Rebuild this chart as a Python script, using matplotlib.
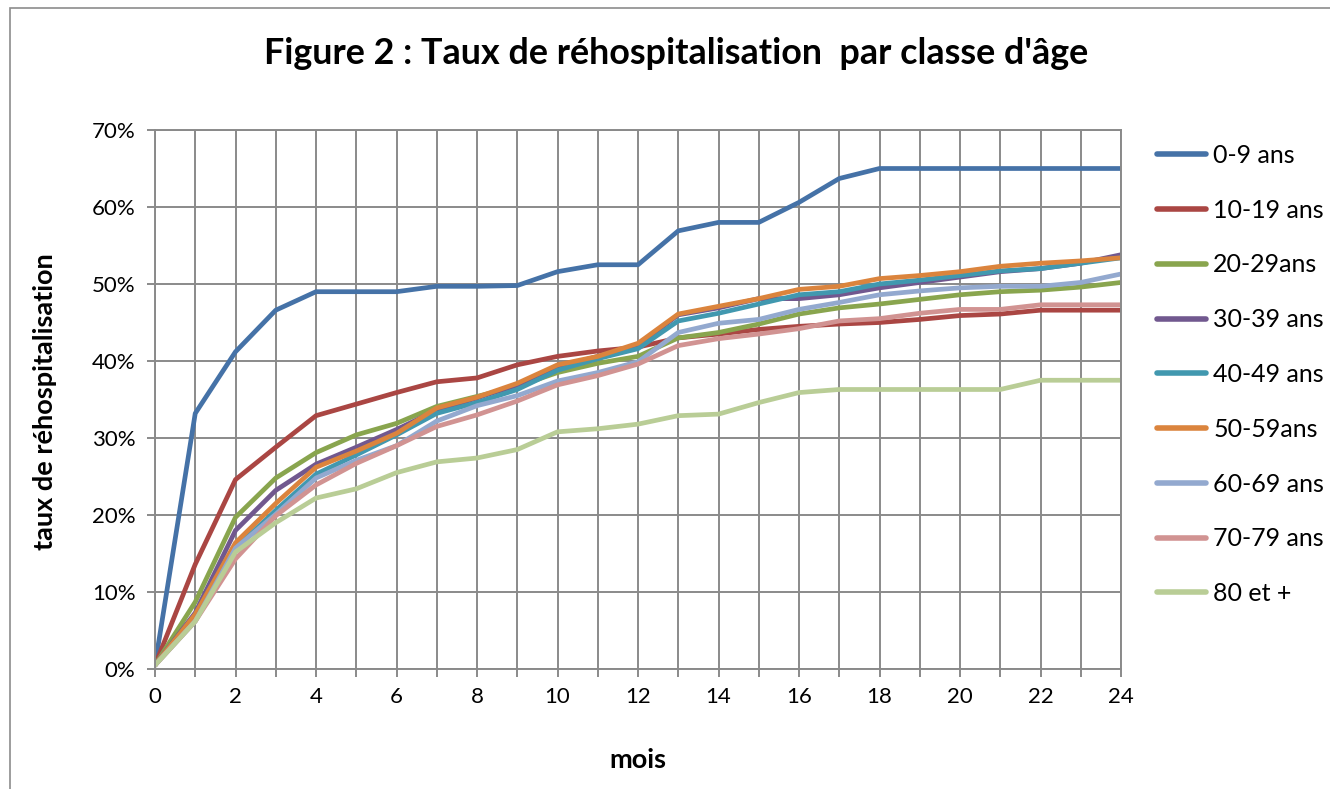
import matplotlib
matplotlib.use("Agg")
import matplotlib.pyplot as plt
from matplotlib.patches import Rectangle
from matplotlib.ticker import MultipleLocator, FuncFormatter

plt.rcParams['font.family'] = ['Lato', 'DejaVu Sans']

months = list(range(25))
labels = ["0-9 ans", "10-19 ans", "20-29ans", "30-39 ans", "40-49 ans",
          "50-59ans", "60-69 ans", "70-79 ans", "80 et +"]
colors = ["#4572A7", "#AA4643", "#89A54E", "#71588F", "#4198AF",
          "#DB843D", "#93A9CF", "#D19392", "#B9CD96"]

s_0_9 = [0.5, 33.2, 41.2, 46.6, 49.0, 49.0, 49.0, 49.7, 49.7, 49.8, 51.6, 52.5, 52.5,
         56.9, 58.0, 58.0, 60.6, 63.7, 65.0, 65.0, 65.0, 65.0, 65.0, 65.0, 65.0]
s_10_19 = [0.5, 13.6, 24.6, 28.8, 32.9, 34.4, 35.9, 37.3, 37.8, 39.5, 40.6, 41.3, 41.8,
           43.0, 43.5, 44.1, 44.5, 44.8, 45.0, 45.4, 45.9, 46.1, 46.6, 46.6, 46.6]
s_20_29 = [0.5, 8.7, 19.7, 24.8, 28.1, 30.4, 31.9, 34.1, 35.4, 36.7, 38.5, 39.7, 40.6,
           43.0, 43.7, 44.8, 46.1, 46.9, 47.4, 48.0, 48.6, 49.0, 49.2, 49.6, 50.2]
s_30_39 = [0.5, 7.3, 18.0, 23.2, 26.6, 28.8, 31.1, 33.6, 35.2, 36.9, 39.2, 40.6, 42.0,
           46.0, 46.9, 48.1, 48.1, 48.6, 49.5, 50.2, 50.9, 51.6, 52.0, 52.7, 53.8]
s_40_49 = [0.5, 6.9, 15.7, 20.6, 25.3, 27.8, 30.4, 33.2, 34.6, 36.3, 38.8, 40.3, 41.6,
           45.2, 46.2, 47.4, 48.6, 49.0, 50.0, 50.5, 51.1, 51.7, 52.0, 52.7, 53.4]
s_50_59 = [0.5, 7.1, 16.4, 21.5, 26.2, 28.3, 30.6, 33.9, 35.3, 37.1, 39.5, 40.6, 42.3,
           46.1, 47.1, 48.1, 49.3, 49.7, 50.7, 51.1, 51.6, 52.3, 52.7, 53.0, 53.4]
s_60_69 = [0.5, 6.2, 15.7, 20.1, 24.8, 27.1, 29.0, 32.2, 34.2, 35.5, 37.4, 38.5, 39.9,
           43.7, 44.9, 45.4, 46.7, 47.6, 48.6, 49.1, 49.5, 49.7, 49.7, 50.2, 51.3]
s_70_79 = [0.5, 6.2, 14.3, 19.9, 23.9, 26.7, 29.0, 31.5, 33.0, 34.8, 36.9, 38.1, 39.6,
           42.0, 42.9, 43.5, 44.2, 45.2, 45.5, 46.2, 46.7, 46.7, 47.3, 47.3, 47.3]
s_80p = [0.5, 6.2, 15.2, 19.0, 22.2, 23.4, 25.5, 26.9, 27.4, 28.5, 30.8, 31.2, 31.8,
         32.9, 33.1, 34.6, 35.9, 36.3, 36.3, 36.3, 36.3, 36.3, 37.5, 37.5, 37.5]

series = [s_0_9, s_10_19, s_20_29, s_30_39, s_40_49, s_50_59, s_60_69, s_70_79, s_80p]

W, H = 1330, 789
fig = plt.figure(figsize=(W / 100, H / 100), dpi=100)
fig.patch.set_facecolor("white")

# outer chart border
fig.add_artist(Rectangle((10 / W, -0.01), 1.02, 1 - 8 / H + 0.01, transform=fig.transFigure,
                         fill=False, edgecolor="#8C8C8C", linewidth=1.2))

ax = fig.add_axes([155 / W, 1 - 669 / H, 966 / W, 539 / H])
grid_c = "#8A8A8A"
for s, c, lab in zip(series, colors, labels):
    ax.plot(months, s, color=c, linewidth=3.4, label=lab, solid_capstyle="round",
            solid_joinstyle="round")

ax.set_xlim(0, 24)
ax.set_ylim(0, 70)
ax.xaxis.set_major_locator(MultipleLocator(2))
ax.xaxis.set_minor_locator(MultipleLocator(1))
ax.yaxis.set_major_locator(MultipleLocator(10))
ax.yaxis.set_major_formatter(FuncFormatter(lambda v, p: f"{int(round(v))}%"))
ax.grid(True, which="both", axis="x", color=grid_c, linewidth=1.4)
ax.grid(True, which="major", axis="y", color=grid_c, linewidth=1.4)
ax.set_axisbelow(True)
for sp in ax.spines.values():
    sp.set_color(grid_c)
    sp.set_linewidth(1.4)
ax.tick_params(axis="both", which="both", direction="out", length=6, width=1.4,
               color=grid_c, labelsize=16, labelcolor="black")
ax.tick_params(axis="x", pad=7)
ax.tick_params(axis="y", pad=8)

ax.set_xlabel("mois", fontsize=19.5, fontweight="bold")
ax.set_ylabel("taux de réhospitalisation", fontsize=19.5, fontweight="bold")
ax.xaxis.set_label_coords((638 - 155) / 966, (669 - 760) / 539)
ax.xaxis.label.set_va("center")
ax.yaxis.set_label_coords((45 - 155) / 966, (669 - 402) / 539)
ax.yaxis.label.set_va("center")

fig.text(676 / W, 1 - 53 / H, "Figure 2 : Taux de réhospitalisation  par classe d'âge",
         ha="center", va="center", fontsize=25.8, fontweight="bold")

leg = ax.legend(loc="upper left", bbox_to_anchor=(1157 / W, 1 - 144 / H),
                bbox_transform=fig.transFigure, frameon=False, fontsize=18,
                handlelength=1.95, handletextpad=0.3, labelspacing=1.27,
                borderaxespad=0, borderpad=0)
for ln in leg.get_lines():
    ln.set_linewidth(4.0)

fig.savefig("out.png", dpi=100)
